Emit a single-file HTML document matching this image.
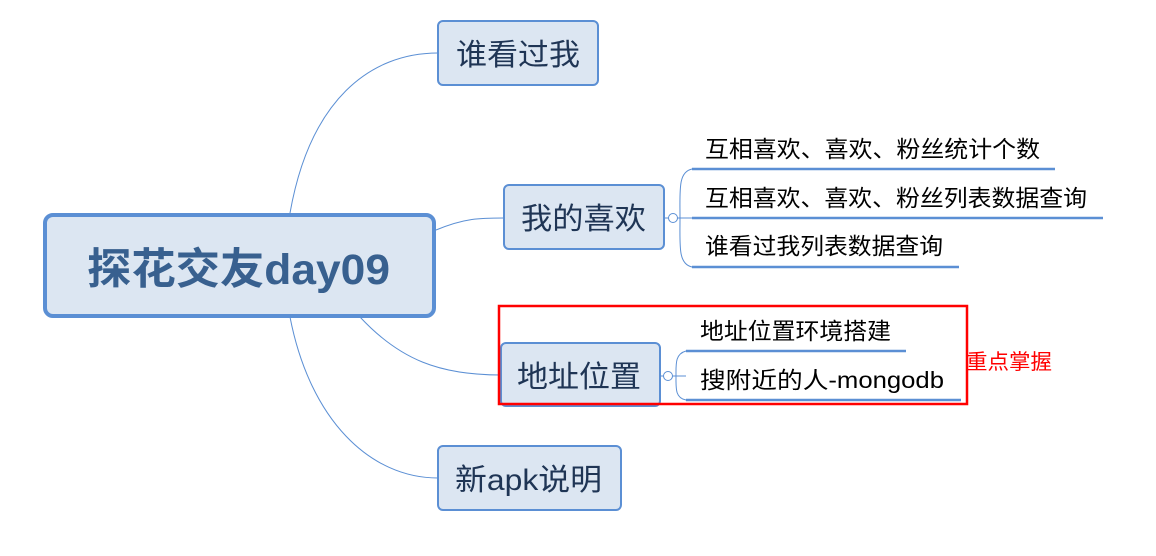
<!DOCTYPE html>
<html><head><meta charset="utf-8"><style>
body{margin:0;background:#fff;}
svg{display:block}
text{font-family:"Liberation Sans","Noto Sans CJK SC",sans-serif;}
</style></head><body>
<svg width="1156" height="556" viewBox="0 0 1156 556">
<g fill="none" stroke="#5b8fd4" stroke-width="1">
<path d="M290,213 C310,100 370,53 438,53"/>
<path d="M436,230 C465,218 480,218 504,218"/>
<path d="M360,317 C400,360 440,375 501,375"/>
<path d="M290,317 C310,420 370,478 438,478"/>
<path d="M664,218 L692,218"/>
<path d="M692,169 C678,172 680,190 680,218 C680,246 678,264 692,267"/>
<path d="M660,376 L686,376"/>
<path d="M686,351 C675,354 676,364 676,376 C676,388 675,398 686,400"/>
</g>
<g fill="#fff" stroke="#5b8fd4" stroke-width="1"><circle cx="673" cy="218" r="4.5"/><circle cx="668" cy="376" r="4.5"/></g>
<g stroke="#5b8fd4" stroke-width="2.5"><line x1="692" y1="169" x2="1055" y2="169"/><line x1="692" y1="218" x2="1103" y2="218"/><line x1="692" y1="267" x2="959" y2="267"/><line x1="686" y1="351" x2="906" y2="351"/><line x1="686" y1="400" x2="961" y2="400"/></g>
<rect x="45" y="215" width="389" height="101" rx="8" fill="#dce6f2" stroke="#5b8fd4" stroke-width="4"/>
<text x="87" y="284" textLength="303" lengthAdjust="spacingAndGlyphs" font-size="43" font-weight="bold" fill="#38608f">探花交友day09</text>
<g fill="#dce6f2" stroke="#5b8fd4" stroke-width="2">
<rect x="438" y="21" width="160" height="64" rx="5"/>
<rect x="504" y="185" width="160" height="64" rx="5"/>
<rect x="501" y="343" width="159" height="63" rx="5"/>
<rect x="438" y="446" width="183" height="64" rx="5"/>
</g>
<g font-size="30" fill="#1f3555" lengthAdjust="spacingAndGlyphs">
<text x="456" y="65" textLength="124" lengthAdjust="spacingAndGlyphs">谁看过我</text>
<text x="521" y="229" textLength="125" lengthAdjust="spacingAndGlyphs">我的喜欢</text>
<text x="517" y="387" textLength="124" lengthAdjust="spacingAndGlyphs">地址位置</text>
<text x="455" y="490" textLength="147" lengthAdjust="spacingAndGlyphs">新apk说明</text>
</g>
<g font-size="23" fill="#000">
<text x="705" y="157" textLength="335" lengthAdjust="spacingAndGlyphs">互相喜欢、喜欢、粉丝统计个数</text>
<text x="705" y="206" textLength="382" lengthAdjust="spacingAndGlyphs">互相喜欢、喜欢、粉丝列表数据查询</text>
<text x="705" y="254" textLength="238" lengthAdjust="spacingAndGlyphs">谁看过我列表数据查询</text>
<text x="700" y="339" textLength="191" lengthAdjust="spacingAndGlyphs">地址位置环境搭建</text>
<text x="700" y="388" textLength="244" lengthAdjust="spacingAndGlyphs">搜附近的人-mongodb</text>
</g>
<rect x="499" y="306" width="468" height="98" fill="none" stroke="#f00" stroke-width="2.5"/>
<text x="966" y="369" font-size="21" fill="#f00" textLength="86" lengthAdjust="spacingAndGlyphs">重点掌握</text>
</svg>
</body></html>
